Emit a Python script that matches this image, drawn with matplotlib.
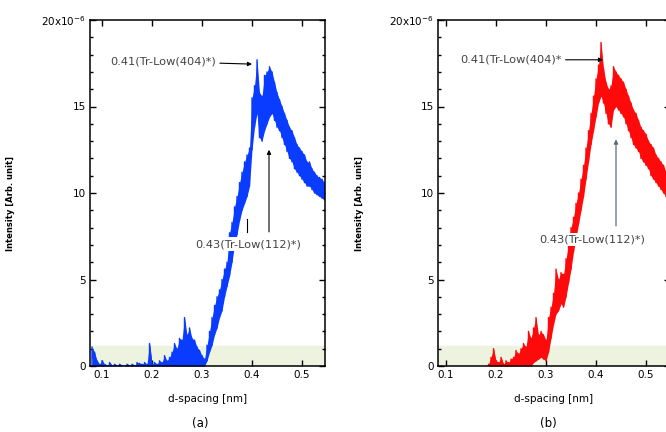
import matplotlib.pyplot as plt
import numpy as np
from matplotlib.ticker import MultipleLocator, FixedLocator, FixedFormatter

# d-spacing grid and noise envelope (low / high), intensity in 1e-6
d_a = [0.080, 0.085, 0.090, 0.095, 0.100, 0.105, 0.110, 0.115, 0.120, 0.125,
       0.130, 0.135, 0.140, 0.145, 0.150, 0.155, 0.160, 0.165, 0.170, 0.175,
       0.180, 0.185, 0.190, 0.195, 0.200, 0.205, 0.210, 0.215, 0.220, 0.225,
       0.230, 0.235, 0.240, 0.245, 0.250, 0.255, 0.260, 0.265, 0.270, 0.275,
       0.280, 0.285, 0.290, 0.295, 0.300, 0.305, 0.310, 0.315, 0.320, 0.325,
       0.330, 0.335, 0.340, 0.345, 0.350, 0.355, 0.360, 0.365, 0.370, 0.375,
       0.380, 0.385, 0.390, 0.395, 0.400, 0.405, 0.410, 0.415, 0.420, 0.425,
       0.430, 0.435, 0.440, 0.445, 0.450, 0.455, 0.460, 0.465, 0.470, 0.475,
       0.480, 0.485, 0.490, 0.495, 0.500, 0.505, 0.510, 0.515, 0.520, 0.525,
       0.530, 0.535, 0.540, 0.545]
lo_a = [0, 0, 0, 0, 0, 0, 0, 0, 0, 0,
        0, 0, 0, 0, 0, 0, 0, 0, 0, 0,
        0, 0, 0, 0, 0, 0, 0, 0, 0, 0,
        0, 0, 0, 0, 0, 0, 0, 0, 0, 0,
        0, 0, 0, 0, 0, 0, 0.3, 0.8, 1.2, 1.8,
        2.2, 2.8, 3.2, 4.0, 4.6, 5.2, 6.0, 7.0, 7.6, 8.4,
        9.0, 9.4, 9.8, 10.4, 12.5, 13.8, 14.6, 13.2, 13.0, 13.6,
        14.0, 14.4, 14.6, 14.2, 13.8, 13.6, 13.2, 12.8, 12.4, 12.0,
        11.8, 11.4, 11.2, 11.0, 10.8, 10.6, 10.4, 10.4, 10.2, 10.0,
        9.9, 9.8, 9.7, 9.6]
hi_a = [1.1, 0.8, 0.3, 0.1, 0.3, 0.1, 0.0, 0.2, 0.0, 0.1,
        0.0, 0.1, 0.0, 0.0, 0.1, 0.0, 0.1, 0.0, 0.2, 0.15,
        0.1, 0.2, 0.1, 1.3, 0.1, 0.2, 0.1, 0.3, 0.2, 0.6,
        0.3, 0.5, 0.8, 1.3, 1.0, 1.6, 1.5, 2.8, 1.8, 2.2,
        1.6, 1.5, 1.1, 0.9, 0.6, 0.4, 1.2, 2.0, 2.8, 3.5,
        4.0, 4.4, 5.0, 5.6, 6.0, 7.7, 8.3, 9.2, 9.8, 10.6,
        11.2, 11.8, 12.2, 12.6, 15.5, 16.2, 17.7, 15.8, 15.6, 16.8,
        17.0, 17.3, 17.0, 16.4, 15.8, 15.4, 15.0, 14.6, 14.2, 13.8,
        13.6, 13.2, 12.8, 12.6, 12.4, 12.2, 11.8, 11.8, 11.4, 11.2,
        11.0, 10.9, 10.8, 10.6]

d_b = [0.185, 0.190, 0.195, 0.200, 0.205, 0.210, 0.215, 0.220, 0.225, 0.230,
       0.235, 0.240, 0.245, 0.250, 0.255, 0.260, 0.265, 0.270, 0.275, 0.280,
       0.285, 0.290, 0.295, 0.300, 0.305, 0.310, 0.315, 0.320, 0.325, 0.330,
       0.335, 0.340, 0.345, 0.350, 0.355, 0.360, 0.365, 0.370, 0.375, 0.380,
       0.385, 0.390, 0.395, 0.400, 0.405, 0.410, 0.415, 0.420, 0.425, 0.430,
       0.435, 0.440, 0.445, 0.450, 0.455, 0.460, 0.465, 0.470, 0.475, 0.480,
       0.485, 0.490, 0.495, 0.500, 0.505, 0.510, 0.515, 0.520, 0.525, 0.530,
       0.535, 0.540, 0.545, 0.550]
lo_b = [0, 0, 0, 0, 0, 0, 0, 0, 0, 0,
        0, 0, 0, 0, 0, 0, 0, 0, 0.2, 0.3,
        0.4, 0.5, 0.4, 0.3, 0.8, 1.6, 2.4, 3.0, 3.2, 3.6,
        3.4, 4.0, 4.8, 5.6, 6.6, 7.4, 8.2, 9.0, 9.8, 10.8,
        11.8, 12.8, 13.6, 14.4, 15.2, 15.6, 15.2, 14.6, 14.0, 13.8,
        14.8, 15.0, 14.8, 14.6, 14.4, 14.0, 13.6, 13.2, 12.8, 12.6,
        12.4, 12.0, 11.8, 11.6, 11.4, 11.0, 10.8, 10.6, 10.4, 10.2,
        10.0, 9.8, 9.8, 9.6]
hi_b = [0.1, 0.5, 1.0, 0.3, 0.2, 0.5, 0.1, 0.3, 0.2, 0.4,
        0.5, 0.9, 0.7, 1.0, 1.3, 1.1, 2.0, 1.6, 2.2, 2.8,
        1.8, 2.0, 1.8, 1.5, 2.8, 3.4, 4.2, 5.6, 5.0, 5.4,
        5.3, 6.2, 7.0, 8.0, 8.6, 9.4, 10.0, 10.8, 11.6, 12.6,
        13.6, 14.6, 15.6, 16.6, 17.4, 18.7, 17.2, 16.4, 16.0, 16.2,
        17.3, 17.0, 16.8, 16.6, 16.4, 16.0, 15.6, 15.2, 14.8, 14.6,
        14.2, 13.8, 13.6, 13.4, 13.0, 12.8, 12.6, 12.2, 12.0, 11.8,
        11.6, 11.2, 11.0, 10.8]

ytick_vals = [0, 5, 10, 15, 20]
ytick_text = ['0', '5', '10', '15', '20x10$^{-6}$']
xtick_vals = [0.1, 0.2, 0.3, 0.4, 0.5]

fig = plt.figure(figsize=(6.66, 4.32), dpi=100)
ax_a = fig.add_axes([90 / 666, 66 / 432, 235 / 666, 346 / 432])
ax_b = fig.add_axes([438 / 666, 66 / 432, 232 / 666, 346 / 432])


def draw_panel(ax, d, lo, hi, color, xlim):
    d = np.asarray(d)
    lo = np.asarray(lo)
    hi = np.asarray(hi)
    ax.axhspan(0, 1.15, color='#eef3df', zorder=0)
    ax.fill_between(d, lo, hi, color=color, lw=0, zorder=2)
    # jagged trace bouncing between the low and high envelope
    xs = np.repeat(d, 2)
    ys = np.column_stack([lo, hi]).ravel()
    ax.plot(xs, ys, color=color, lw=1.0, zorder=2)
    ax.set_xlim(*xlim)
    ax.set_ylim(0, 20)
    ax.xaxis.set_major_locator(FixedLocator(xtick_vals))
    ax.yaxis.set_major_locator(FixedLocator(ytick_vals))
    ax.yaxis.set_major_formatter(FixedFormatter(ytick_text))
    ax.yaxis.set_minor_locator(MultipleLocator(1))
    ax.tick_params(which='both', direction='in', top=True, right=True,
                   labelsize=7.5, width=1.0, pad=3)
    ax.tick_params(which='major', length=4)
    ax.tick_params(which='minor', length=2.5)
    for s in ax.spines.values():
        s.set_linewidth(1.1)
    ax.set_ylabel('Intensity [Arb. unit]', fontsize=6, fontweight='bold')
    ax.yaxis.set_label_coords(-0.32, 0.47)
    ax.set_xlabel('d-spacing [nm]', fontsize=7.5, labelpad=10)


draw_panel(ax_a, d_a, lo_a, hi_a, '#0a3cff', (0.076, 0.546))
draw_panel(ax_b, d_b, lo_b, hi_b, '#ff0a0a', (0.084, 0.548))

label_box = dict(boxstyle='square,pad=0.15', fc='white', ec='none')

# annotations panel (a)
ax_a.annotate('0.41(Tr-Low(404)*)', xy=(0.400, 17.45), xytext=(0.116, 17.6),
              fontsize=8.2, color='#444444', va='center', ha='left',
              arrowprops=dict(arrowstyle='-|>', color='black', lw=0.8,
                              mutation_scale=6, shrinkA=1, shrinkB=0))
ax_a.text(0.392, 7.05, '0.43(Tr-Low(112)*)', fontsize=8.2, color='#444444',
          va='center', ha='center', bbox=label_box, zorder=5)
ax_a.annotate('', xy=(0.434, 12.5), xytext=(0.434, 7.75),
              arrowprops=dict(arrowstyle='-|>', color='black', lw=0.8,
                              mutation_scale=6, shrinkA=0, shrinkB=0), zorder=5)
ax_a.plot([0.39, 0.39], [7.75, 8.5], color='black', lw=0.8, zorder=5)

# annotations panel (b)
ax_b.annotate('0.41(Tr-Low(404)*', xy=(0.414, 17.7), xytext=(0.128, 17.7),
              fontsize=8.2, color='#444444', va='center', ha='left',
              arrowprops=dict(arrowstyle='-|>', color='black', lw=0.8,
                              mutation_scale=6, shrinkA=1, shrinkB=0))
ax_b.text(0.392, 7.3, '0.43(Tr-Low(112)*)', fontsize=8.2, color='#444444',
          va='center', ha='center', bbox=label_box, zorder=5)
ax_b.annotate('', xy=(0.440, 13.1), xytext=(0.440, 8.1),
              arrowprops=dict(arrowstyle='-|>', color='#5a6a80', lw=0.9,
                              mutation_scale=6, shrinkA=0, shrinkB=0), zorder=5)

fig.text(200 / 666, 1 - 423 / 432, '(a)', fontsize=8.5, ha='center', va='center')
fig.text(548 / 666, 1 - 423 / 432, '(b)', fontsize=8.5, ha='center', va='center')

fig.savefig('out.png', dpi=100)
